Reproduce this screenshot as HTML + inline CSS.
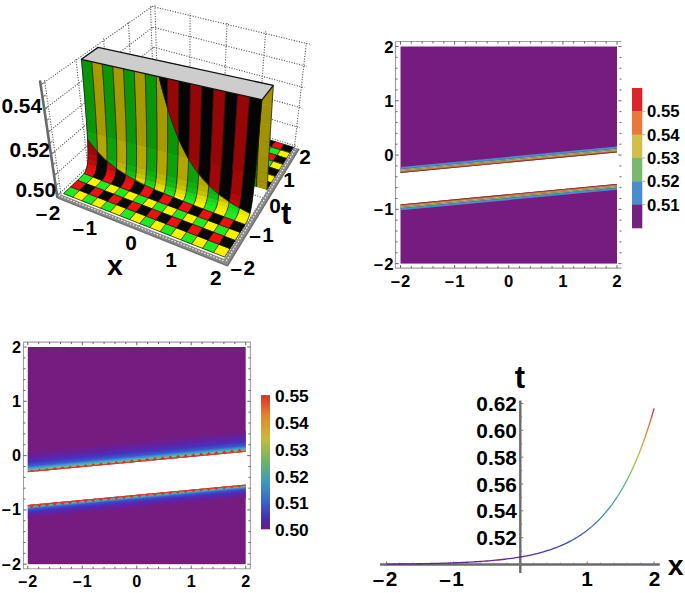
<!DOCTYPE html>
<html><head><meta charset="utf-8"><style>
html,body{margin:0;padding:0;background:#fff;}
svg{display:block;}
text{font-family:"Liberation Sans",sans-serif;font-weight:bold;fill:#000;}
</style></head><body>
<svg width="685" height="593" viewBox="0 0 685 593">
<rect width="685" height="593" fill="#fff"/>
<path d="M58.4,194.6 L155.4,102.9 M155.4,102.9 L297.6,146.5 M55.5,174.5 L154.8,85.0 M154.8,85.0 L299.8,127.7 M52.4,153.4 L154.2,66.5 M154.2,66.5 L302.1,108.1 M49.2,131.3 L153.6,47.2 M153.6,47.2 L304.5,87.7 M45.8,108.2 L152.9,27.2 M152.9,27.2 L307.0,66.4 M42.2,83.8 L152.2,6.4 M152.2,6.4 L309.7,44.2 M61.0,194.4 L44.5,79.5 M88.0,168.7 L75.8,57.6 M112.3,145.7 L103.5,38.2 M134.1,124.9 L128.3,21.0 M154.0,106.1 L150.5,5.5 M158.0,105.4 L154.9,4.9 M189.8,115.2 L190.1,13.3 M223.1,125.4 L227.0,22.2 M257.9,136.1 L265.7,31.4 M294.4,147.4 L306.6,41.2 M98.6,212.4 L189.8,115.2 M137.7,228.0 L223.1,125.4 M179.0,244.5 L257.9,136.1 M222.8,261.9 L294.4,147.4 M88.0,168.7 L248.3,228.0 M112.3,145.7 L266.1,199.0 M134.1,124.9 L282.0,173.2 M154.0,106.1 L296.3,150.0" stroke="#555" stroke-width="1.1" stroke-dasharray="1.1 1.5" fill="none"/>
<path d="M253.0,141.3 262.1,144.1 265.8,138.8 256.8,136.0Z" fill="#ec1212" stroke="#ec1212" stroke-width="0.4"/>
<path d="M253.0,141.3 L255.3,142.0 L257.5,142.7 L259.8,143.4 L262.1,144.1 M262.1,144.1 L263.0,142.7 L264.0,141.4 L264.9,140.1 L265.8,138.8 M265.8,138.8 L263.6,138.1 L261.3,137.4 L259.1,136.7 L256.8,136.0 M256.8,136.0 L255.9,137.3 L254.9,138.6 L254.0,139.9 L253.0,141.3" stroke="#111" stroke-width="0.7" fill="none"/>
<path d="M262.1,144.1 271.3,147.0 275.0,141.6 265.8,138.8Z" fill="#080808" stroke="#080808" stroke-width="0.4"/>
<path d="M262.1,144.1 L264.4,144.8 L266.7,145.5 L269.0,146.2 L271.3,147.0 M271.3,147.0 L272.2,145.6 L273.1,144.3 L274.0,142.9 L275.0,141.6 M275.0,141.6 L272.7,140.9 L270.4,140.2 L268.1,139.5 L265.8,138.8 M265.8,138.8 L264.9,140.1 L264.0,141.4 L263.0,142.7 L262.1,144.1" stroke="#111" stroke-width="0.7" fill="none"/>
<path d="M271.3,147.0 280.6,149.9 284.2,144.4 275.0,141.6Z" fill="#ec1212" stroke="#ec1212" stroke-width="0.4"/>
<path d="M271.3,147.0 L273.6,147.7 L275.9,148.4 L278.3,149.1 L280.6,149.9 M280.6,149.9 L281.5,148.5 L282.4,147.1 L283.3,145.8 L284.2,144.4 M284.2,144.4 L281.9,143.7 L279.6,143.0 L277.3,142.3 L275.0,141.6 M275.0,141.6 L274.0,142.9 L273.1,144.3 L272.2,145.6 L271.3,147.0" stroke="#111" stroke-width="0.7" fill="none"/>
<path d="M280.6,149.9 290.0,152.8 293.5,147.3 284.2,144.4Z" fill="#080808" stroke="#080808" stroke-width="0.4"/>
<path d="M280.6,149.9 L282.9,150.6 L285.3,151.3 L287.7,152.1 L290.0,152.8 M290.0,152.8 L290.9,151.4 L291.8,150.0 L292.6,148.6 L293.5,147.3 M293.5,147.3 L291.2,146.6 L288.8,145.8 L286.5,145.1 L284.2,144.4 M284.2,144.4 L283.3,145.8 L282.4,147.1 L281.5,148.5 L280.6,149.9" stroke="#111" stroke-width="0.7" fill="none"/>
<path d="M249.0,146.7 258.2,149.6 262.1,144.1 253.0,141.3Z" fill="#1eec1e" stroke="#1eec1e" stroke-width="0.4"/>
<path d="M249.0,146.7 L251.3,147.4 L253.6,148.1 L255.9,148.8 L258.2,149.6 M258.2,149.6 L259.2,148.2 L260.2,146.8 L261.1,145.4 L262.1,144.1 M262.1,144.1 L259.8,143.4 L257.5,142.7 L255.3,142.0 L253.0,141.3 M253.0,141.3 L252.0,142.6 L251.0,143.9 L250.0,145.3 L249.0,146.7" stroke="#111" stroke-width="0.7" fill="none"/>
<path d="M258.2,149.6 267.5,152.5 271.3,147.0 262.1,144.1Z" fill="#f6f200" stroke="#f6f200" stroke-width="0.4"/>
<path d="M258.2,149.6 L260.5,150.3 L262.9,151.0 L265.2,151.8 L267.5,152.5 M267.5,152.5 L268.5,151.1 L269.4,149.7 L270.4,148.3 L271.3,147.0 M271.3,147.0 L269.0,146.2 L266.7,145.5 L264.4,144.8 L262.1,144.1 M262.1,144.1 L261.1,145.4 L260.2,146.8 L259.2,148.2 L258.2,149.6" stroke="#111" stroke-width="0.7" fill="none"/>
<path d="M267.5,152.5 276.9,155.5 280.6,149.9 271.3,147.0Z" fill="#1eec1e" stroke="#1eec1e" stroke-width="0.4"/>
<path d="M267.5,152.5 L269.9,153.2 L272.2,154.0 L274.6,154.7 L276.9,155.5 M276.9,155.5 L277.9,154.1 L278.8,152.7 L279.7,151.3 L280.6,149.9 M280.6,149.9 L278.3,149.1 L275.9,148.4 L273.6,147.7 L271.3,147.0 M271.3,147.0 L270.4,148.3 L269.4,149.7 L268.5,151.1 L267.5,152.5" stroke="#111" stroke-width="0.7" fill="none"/>
<path d="M276.9,155.5 286.5,158.5 290.0,152.8 280.6,149.9Z" fill="#f6f200" stroke="#f6f200" stroke-width="0.4"/>
<path d="M276.9,155.5 L279.3,156.2 L281.7,157.0 L284.1,157.7 L286.5,158.5 M286.5,158.5 L287.4,157.1 L288.3,155.6 L289.1,154.2 L290.0,152.8 M290.0,152.8 L287.7,152.1 L285.3,151.3 L282.9,150.6 L280.6,149.9 M280.6,149.9 L279.7,151.3 L278.8,152.7 L277.9,154.1 L276.9,155.5" stroke="#111" stroke-width="0.7" fill="none"/>
<path d="M245.0,152.2 254.3,155.2 258.2,149.6 249.0,146.7Z" fill="#ec1212" stroke="#ec1212" stroke-width="0.4"/>
<path d="M245.0,152.2 L247.3,152.9 L249.6,153.7 L251.9,154.4 L254.3,155.2 M254.3,155.2 L255.3,153.8 L256.3,152.4 L257.3,151.0 L258.2,149.6 M258.2,149.6 L255.9,148.8 L253.6,148.1 L251.3,147.4 L249.0,146.7 M249.0,146.7 L248.0,148.0 L247.0,149.4 L246.0,150.8 L245.0,152.2" stroke="#111" stroke-width="0.7" fill="none"/>
<path d="M254.3,155.2 263.7,158.2 267.5,152.5 258.2,149.6Z" fill="#080808" stroke="#080808" stroke-width="0.4"/>
<path d="M254.3,155.2 L256.6,155.9 L259.0,156.7 L261.3,157.4 L263.7,158.2 M263.7,158.2 L264.6,156.8 L265.6,155.3 L266.6,153.9 L267.5,152.5 M267.5,152.5 L265.2,151.8 L262.9,151.0 L260.5,150.3 L258.2,149.6 M258.2,149.6 L257.3,151.0 L256.3,152.4 L255.3,153.8 L254.3,155.2" stroke="#111" stroke-width="0.7" fill="none"/>
<path d="M263.7,158.2 273.2,161.2 276.9,155.5 267.5,152.5Z" fill="#ec1212" stroke="#ec1212" stroke-width="0.4"/>
<path d="M263.7,158.2 L266.0,158.9 L268.4,159.7 L270.8,160.5 L273.2,161.2 M273.2,161.2 L274.1,159.8 L275.1,158.3 L276.0,156.9 L276.9,155.5 M276.9,155.5 L274.6,154.7 L272.2,154.0 L269.9,153.2 L267.5,152.5 M267.5,152.5 L266.6,153.9 L265.6,155.3 L264.6,156.8 L263.7,158.2" stroke="#111" stroke-width="0.7" fill="none"/>
<path d="M273.2,161.2 282.8,164.3 286.5,158.5 276.9,155.5Z" fill="#080808" stroke="#080808" stroke-width="0.4"/>
<path d="M273.2,161.2 L275.6,162.0 L278.0,162.8 L280.4,163.6 L282.8,164.3 M282.8,164.3 L283.7,162.9 L284.7,161.4 L285.6,159.9 L286.5,158.5 M286.5,158.5 L284.1,157.7 L281.7,157.0 L279.3,156.2 L276.9,155.5 M276.9,155.5 L276.0,156.9 L275.1,158.3 L274.1,159.8 L273.2,161.2" stroke="#111" stroke-width="0.7" fill="none"/>
<path d="M250.2,160.9 259.7,164.0 263.7,158.2 254.3,155.2Z" fill="#f6f200" stroke="#f6f200" stroke-width="0.4"/>
<path d="M250.2,160.9 L252.6,161.7 L255.0,162.5 L257.3,163.2 L259.7,164.0 M259.7,164.0 L260.7,162.5 L261.7,161.1 L262.7,159.6 L263.7,158.2 M263.7,158.2 L261.3,157.4 L259.0,156.7 L256.6,155.9 L254.3,155.2 M254.3,155.2 L253.3,156.6 L252.3,158.0 L251.2,159.5 L250.2,160.9" stroke="#111" stroke-width="0.7" fill="none"/>
<path d="M259.7,164.0 269.3,167.2 273.2,161.2 263.7,158.2Z" fill="#1eec1e" stroke="#1eec1e" stroke-width="0.4"/>
<path d="M259.7,164.0 L262.1,164.8 L264.5,165.6 L266.9,166.4 L269.3,167.2 M269.3,167.2 L270.3,165.7 L271.3,164.2 L272.2,162.7 L273.2,161.2 M273.2,161.2 L270.8,160.5 L268.4,159.7 L266.0,158.9 L263.7,158.2 M263.7,158.2 L262.7,159.6 L261.7,161.1 L260.7,162.5 L259.7,164.0" stroke="#111" stroke-width="0.7" fill="none"/>
<path d="M269.3,167.2 279.1,170.3 282.8,164.3 273.2,161.2Z" fill="#f6f200" stroke="#f6f200" stroke-width="0.4"/>
<path d="M269.3,167.2 L271.7,167.9 L274.2,168.7 L276.6,169.5 L279.1,170.3 M279.1,170.3 L280.0,168.8 L280.9,167.3 L281.9,165.8 L282.8,164.3 M282.8,164.3 L280.4,163.6 L278.0,162.8 L275.6,162.0 L273.2,161.2 M273.2,161.2 L272.2,162.7 L271.3,164.2 L270.3,165.7 L269.3,167.2" stroke="#111" stroke-width="0.7" fill="none"/>
<path d="M246.1,166.8 255.6,170.0 259.7,164.0 250.2,160.9Z" fill="#080808" stroke="#080808" stroke-width="0.4"/>
<path d="M246.1,166.8 L248.4,167.6 L250.8,168.4 L253.2,169.2 L255.6,170.0 M255.6,170.0 L256.7,168.5 L257.7,167.0 L258.7,165.5 L259.7,164.0 M259.7,164.0 L257.3,163.2 L255.0,162.5 L252.6,161.7 L250.2,160.9 M250.2,160.9 L249.2,162.4 L248.2,163.9 L247.1,165.4 L246.1,166.8" stroke="#111" stroke-width="0.7" fill="none"/>
<path d="M255.6,170.0 265.4,173.2 269.3,167.2 259.7,164.0Z" fill="#ec1212" stroke="#ec1212" stroke-width="0.4"/>
<path d="M255.6,170.0 L258.1,170.8 L260.5,171.6 L262.9,172.4 L265.4,173.2 M265.4,173.2 L266.4,171.7 L267.4,170.2 L268.3,168.7 L269.3,167.2 M269.3,167.2 L266.9,166.4 L264.5,165.6 L262.1,164.8 L259.7,164.0 M259.7,164.0 L258.7,165.5 L257.7,167.0 L256.7,168.5 L255.6,170.0" stroke="#111" stroke-width="0.7" fill="none"/>
<path d="M265.4,173.2 275.2,176.5 279.1,170.3 269.3,167.2Z" fill="#080808" stroke="#080808" stroke-width="0.4"/>
<path d="M265.4,173.2 L267.8,174.0 L270.3,174.8 L272.7,175.7 L275.2,176.5 M275.2,176.5 L276.2,174.9 L277.1,173.4 L278.1,171.8 L279.1,170.3 M279.1,170.3 L276.6,169.5 L274.2,168.7 L271.7,167.9 L269.3,167.2 M269.3,167.2 L268.3,168.7 L267.4,170.2 L266.4,171.7 L265.4,173.2" stroke="#111" stroke-width="0.7" fill="none"/>
<path d="M251.5,176.2 261.3,179.5 265.4,173.2 255.6,170.0Z" fill="#1eec1e" stroke="#1eec1e" stroke-width="0.4"/>
<path d="M251.5,176.2 L253.9,177.0 L256.4,177.8 L258.8,178.6 L261.3,179.5 M261.3,179.5 L262.3,177.9 L263.3,176.3 L264.4,174.8 L265.4,173.2 M265.4,173.2 L262.9,172.4 L260.5,171.6 L258.1,170.8 L255.6,170.0 M255.6,170.0 L254.6,171.5 L253.6,173.1 L252.5,174.6 L251.5,176.2" stroke="#111" stroke-width="0.7" fill="none"/>
<path d="M261.3,179.5 271.2,182.8 275.2,176.5 265.4,173.2Z" fill="#f6f200" stroke="#f6f200" stroke-width="0.4"/>
<path d="M261.3,179.5 L263.8,180.3 L266.3,181.1 L268.7,182.0 L271.2,182.8 M271.2,182.8 L272.2,181.2 L273.2,179.6 L274.2,178.0 L275.2,176.5 M275.2,176.5 L272.7,175.7 L270.3,174.8 L267.8,174.0 L265.4,173.2 M265.4,173.2 L264.4,174.8 L263.3,176.3 L262.3,177.9 L261.3,179.5" stroke="#111" stroke-width="0.7" fill="none"/>
<path d="M247.2,182.5 257.1,185.9 261.3,179.5 251.5,176.2Z" fill="#ec1212" stroke="#ec1212" stroke-width="0.4"/>
<path d="M247.2,182.5 L249.7,183.3 L252.1,184.2 L254.6,185.0 L257.1,185.9 M257.1,185.9 L258.2,184.2 L259.2,182.6 L260.3,181.0 L261.3,179.5 M261.3,179.5 L258.8,178.6 L256.4,177.8 L253.9,177.0 L251.5,176.2 M251.5,176.2 L250.4,177.7 L249.3,179.3 L248.3,180.9 L247.2,182.5" stroke="#111" stroke-width="0.7" fill="none"/>
<path d="M257.1,185.9 267.2,189.3 271.2,182.8 261.3,179.5Z" fill="#080808" stroke="#080808" stroke-width="0.4"/>
<path d="M257.1,185.9 L259.6,186.7 L262.1,187.6 L264.6,188.4 L267.2,189.3 M267.2,189.3 L268.2,187.6 L269.2,186.0 L270.2,184.4 L271.2,182.8 M271.2,182.8 L268.7,182.0 L266.3,181.1 L263.8,180.3 L261.3,179.5 M261.3,179.5 L260.3,181.0 L259.2,182.6 L258.2,184.2 L257.1,185.9" stroke="#111" stroke-width="0.7" fill="none"/>
<path d="M256.6,186.7 257.1,185.9 247.2,182.5 246.2,183.9Z" fill="#1eec1e" stroke="#1eec1e" stroke-width="0.4"/>
<path d="M256.6,186.7 L256.7,186.5 L256.9,186.3 L257.0,186.1 L257.1,185.9 M257.1,185.9 L254.6,185.0 L252.1,184.2 L249.7,183.3 L247.2,182.5 M247.2,182.5 L246.9,182.8 L246.7,183.2 L246.5,183.5 L246.2,183.9" stroke="#111" stroke-width="0.7" fill="none"/>
<path d="M267.1,189.5 267.2,189.3 257.1,185.9 256.6,186.7Z" fill="#f6f200" stroke="#f6f200" stroke-width="0.4"/>
<path d="M267.1,189.5 L267.1,189.4 L267.1,189.4 L267.1,189.3 L267.2,189.3 M267.2,189.3 L264.6,188.4 L262.1,187.6 L259.6,186.7 L257.1,185.9 M257.1,185.9 L257.0,186.1 L256.9,186.3 L256.7,186.5 L256.6,186.7" stroke="#111" stroke-width="0.7" fill="none"/>
<path d="M256.8,179.9 256.6,186.7 246.2,183.9 246.4,177.1Z" fill="#078f07" stroke="#078f07" stroke-width="0.4"/>
<path d="M256.8,179.9 L256.7,181.8 L256.7,183.6 L256.6,185.3 L256.6,186.7 M246.2,183.9 L246.2,182.5 L246.3,180.9 L246.3,179.0 L246.4,177.1" stroke="#111" stroke-width="0.7" fill="none"/>
<path d="M267.4,182.7 267.1,189.5 256.6,186.7 256.8,179.9Z" fill="#9f9204" stroke="#9f9204" stroke-width="0.4"/>
<path d="M267.4,182.7 L267.3,184.6 L267.2,186.5 L267.1,188.1 L267.1,189.5 M256.6,186.7 L256.6,185.3 L256.7,183.6 L256.7,181.8 L256.8,179.9" stroke="#111" stroke-width="0.7" fill="none"/>
<path d="M257.2,171.3 256.8,179.9 246.4,177.1 246.6,168.6Z" fill="#078f07" stroke="#078f07" stroke-width="0.4"/>
<path d="M257.2,171.3 L257.1,173.6 L257.0,175.7 L256.9,177.8 L256.8,179.9 M246.4,177.1 L246.4,175.1 L246.5,173.0 L246.5,170.8 L246.6,168.6" stroke="#111" stroke-width="0.7" fill="none"/>
<path d="M267.9,174.1 267.4,182.7 256.8,179.9 257.2,171.3Z" fill="#9f9204" stroke="#9f9204" stroke-width="0.4"/>
<path d="M267.9,174.1 L267.7,176.4 L267.6,178.5 L267.5,180.6 L267.4,182.7 M256.8,179.9 L256.9,177.8 L257.0,175.7 L257.1,173.6 L257.2,171.3" stroke="#111" stroke-width="0.7" fill="none"/>
<path d="M257.8,156.7 257.2,171.3 246.6,168.6 247.0,154.0Z" fill="#078f07" stroke="#078f07" stroke-width="0.4"/>
<path d="M257.8,156.7 L257.6,160.6 L257.5,164.3 L257.3,167.8 L257.2,171.3 M246.6,168.6 L246.7,165.1 L246.8,161.5 L246.9,157.8 L247.0,154.0" stroke="#111" stroke-width="0.7" fill="none"/>
<path d="M268.7,159.5 267.9,174.1 257.2,171.3 257.8,156.7Z" fill="#9f9204" stroke="#9f9204" stroke-width="0.4"/>
<path d="M268.7,159.5 L268.5,163.3 L268.3,167.0 L268.1,170.6 L267.9,174.1 M257.2,171.3 L257.3,167.8 L257.5,164.3 L257.6,160.6 L257.8,156.7" stroke="#111" stroke-width="0.7" fill="none"/>
<path d="M258.6,140.5 257.8,156.7 247.0,154.0 247.6,137.8Z" fill="#078f07" stroke="#078f07" stroke-width="0.4"/>
<path d="M258.6,140.5 L258.4,144.7 L258.2,148.8 L258.0,152.8 L257.8,156.7 M247.0,154.0 L247.2,150.1 L247.3,146.1 L247.4,142.0 L247.6,137.8" stroke="#111" stroke-width="0.7" fill="none"/>
<path d="M269.7,143.2 268.7,159.5 257.8,156.7 258.6,140.5Z" fill="#9f9204" stroke="#9f9204" stroke-width="0.4"/>
<path d="M269.7,143.2 L269.4,147.5 L269.2,151.6 L268.9,155.6 L268.7,159.5 M257.8,156.7 L258.0,152.8 L258.2,148.8 L258.4,144.7 L258.6,140.5" stroke="#111" stroke-width="0.7" fill="none"/>
<path d="M259.4,122.8 258.6,140.5 247.6,137.8 248.2,120.1Z" fill="#078f07" stroke="#078f07" stroke-width="0.4"/>
<path d="M259.4,122.8 L259.2,127.3 L259.0,131.8 L258.8,136.2 L258.6,140.5 M247.6,137.8 L247.7,133.5 L247.9,129.1 L248.0,124.7 L248.2,120.1" stroke="#111" stroke-width="0.7" fill="none"/>
<path d="M270.8,125.4 269.7,143.2 258.6,140.5 259.4,122.8Z" fill="#9f9204" stroke="#9f9204" stroke-width="0.4"/>
<path d="M270.8,125.4 L270.5,130.0 L270.2,134.5 L270.0,138.9 L269.7,143.2 M258.6,140.5 L258.8,136.2 L259.0,131.8 L259.2,127.3 L259.4,122.8" stroke="#111" stroke-width="0.7" fill="none"/>
<path d="M272.0,106.2 270.8,125.4 259.4,122.8 260.4,103.5Z" fill="#9f9204" stroke="#9f9204" stroke-width="0.4"/>
<path d="M272.0,106.2 L271.7,111.1 L271.4,116.0 L271.1,120.8 L270.8,125.4 M259.4,122.8 L259.7,118.1 L259.9,113.3 L260.1,108.5 L260.4,103.5" stroke="#111" stroke-width="0.7" fill="none"/>
<path d="M237.7,89.9 246.6,79.6 249.6,80.2 248.9,100.9 237.5,98.3Z" fill="#9f9204" stroke="#9f9204" stroke-width="0.4"/>
<path d="M237.7,89.9 L239.9,87.4 L242.1,84.8 L244.4,82.2 L246.6,79.6 M249.6,80.2 L249.4,85.6 L249.2,90.8 L249.1,95.9 L248.9,100.9 M237.5,98.3 L237.6,96.3 L237.6,94.2 L237.7,92.1 L237.7,89.9" stroke="#111" stroke-width="0.7" fill="none"/>
<path d="M192.8,67.9 193.3,88.3 182.6,85.9 181.8,65.5Z" fill="#8f0505" stroke="#8f0505" stroke-width="0.4"/>
<path d="M192.8,67.9 L192.9,73.2 L193.0,78.3 L193.2,83.3 L193.3,88.3 M182.6,85.9 L182.4,80.9 L182.2,75.9 L182.0,70.8 L181.8,65.5" stroke="#111" stroke-width="0.7" fill="none"/>
<path d="M170.9,63.2 171.9,83.5 161.4,81.1 160.2,60.9Z" fill="#8f0505" stroke="#8f0505" stroke-width="0.4"/>
<path d="M170.9,63.2 L171.2,68.4 L171.4,73.5 L171.7,78.5 L171.9,83.5 M161.4,81.1 L161.1,76.1 L160.8,71.1 L160.5,66.0 L160.2,60.9" stroke="#111" stroke-width="0.7" fill="none"/>
<path d="M181.8,65.5 182.6,85.9 171.9,83.5 170.9,63.2Z" fill="#040404" stroke="#040404" stroke-width="0.4"/>
<path d="M181.8,65.5 L182.0,70.8 L182.2,75.9 L182.4,80.9 L182.6,85.9 M171.9,83.5 L171.7,78.5 L171.4,73.5 L171.2,68.4 L170.9,63.2" stroke="#111" stroke-width="0.7" fill="none"/>
<path d="M261.4,82.8 260.4,103.5 248.9,100.9 249.6,80.2Z" fill="#078f07" stroke="#078f07" stroke-width="0.4"/>
<path d="M261.4,82.8 L261.1,88.1 L260.9,93.4 L260.6,98.5 L260.4,103.5 M248.9,100.9 L249.1,95.9 L249.2,90.8 L249.4,85.6 L249.6,80.2" stroke="#111" stroke-width="0.7" fill="none"/>
<path d="M273.3,85.4 272.0,106.2 260.4,103.5 261.4,82.8Z" fill="#9f9204" stroke="#9f9204" stroke-width="0.4"/>
<path d="M273.3,85.4 L273.0,90.7 L272.6,96.0 L272.3,101.1 L272.0,106.2 M260.4,103.5 L260.6,98.5 L260.9,93.4 L261.1,88.1 L261.4,82.8" stroke="#111" stroke-width="0.7" fill="none"/>
<path d="M128.8,55.8 129.7,54.3 139.0,56.3 140.8,76.4 130.6,74.1Z" fill="#040404" stroke="#040404" stroke-width="0.4"/>
<path d="M128.8,55.8 L129.0,55.4 L129.3,55.0 L129.5,54.6 L129.7,54.3 M139.0,56.3 L139.5,61.4 L139.9,66.5 L140.3,71.5 L140.8,76.4 M130.6,74.1 L130.1,69.6 L129.7,65.1 L129.3,60.4 L128.8,55.8" stroke="#111" stroke-width="0.7" fill="none"/>
<path d="M129.7,54.3 128.8,55.8 128.6,54.0Z" fill="#9f9204" stroke="#9f9204" stroke-width="0.4"/>
<path d="M129.7,54.3 L129.5,54.6 L129.3,55.0 L129.0,55.4 L128.8,55.8 M128.8,55.8 L128.8,55.3 L128.7,54.9 L128.7,54.5 L128.6,54.0" stroke="#111" stroke-width="0.7" fill="none"/>
<path d="M93.3,176.8 84.0,173.2 82.8,174.6 79.4,178.1 77.0,180.4 86.4,184.0 89.5,180.9 92.5,177.8ZM101.8,180.1 98.5,183.7 94.9,187.3 104.6,190.9 108.8,186.5 111.3,183.8ZM123.2,198.0 129.8,190.8 120.0,187.1 113.3,194.3ZM72.7,197.4 80.1,190.3 70.6,186.6 63.2,193.7ZM142.3,205.3 148.7,197.9 138.7,194.1 132.2,201.5ZM91.2,204.7 98.4,197.3 88.6,193.6 81.4,200.9ZM110.2,212.2 117.2,204.6 107.2,200.8 100.1,208.2ZM162.0,212.8 168.1,205.2 157.8,201.3 151.6,208.8ZM129.7,219.9 136.5,212.1 126.2,208.1 119.4,215.8ZM149.8,227.8 156.3,219.8 145.8,215.7 139.2,223.7ZM163.3,193.5 173.5,197.7 174.6,195.2 163.9,192.1ZM184.5,198.0 183.3,200.6 182.8,201.4 193.3,205.5 194.4,203.5 195.4,201.1ZM205.5,203.9 204.3,206.6 202.9,209.2 213.6,213.2 215.4,210.0 216.6,207.1ZM237.2,216.0 238.3,213.3 226.9,210.0 225.8,212.7 224.4,215.3 223.4,216.9 234.4,221.0 236.0,218.4ZM182.2,220.5 188.1,212.7 177.6,208.7 171.5,216.4ZM203.0,228.4 208.6,220.4 197.8,216.3 192.0,224.2ZM170.4,236.0 176.7,227.7 166.0,223.5 159.6,231.7ZM224.3,236.6 229.7,228.3 218.6,224.1 213.1,232.3ZM191.7,244.4 197.7,235.9 186.7,231.6 180.5,240.0ZM213.6,253.0 219.3,244.2 208.0,239.8 202.1,248.5Z" fill="#1eec1e"/>
<path d="M95.7,172.8 85.8,170.0 84.5,172.4 83.7,173.6 93.0,177.3 94.6,175.0 94.5,175.0ZM101.4,180.5 111.0,184.2 112.0,182.9 113.4,180.9 113.7,180.5 113.7,180.5 114.8,178.2 104.7,175.3 103.5,177.8ZM133.1,186.3 134.4,183.7 124.1,180.8 122.8,183.3 121.1,185.7 119.6,187.5 129.4,191.2 131.6,188.5ZM79.7,190.6 86.8,183.6 77.4,180.1 70.2,187.0ZM143.8,186.4 142.6,188.9 140.9,191.3 138.3,194.5 148.3,198.3 151.6,194.2 153.2,191.8 154.3,189.4ZM98.0,197.7 104.9,190.5 95.3,186.9 88.3,194.0ZM116.8,205.0 123.6,197.6 113.7,193.9 106.8,201.2ZM136.1,212.5 142.7,204.9 132.5,201.1 125.9,208.5ZM156.0,220.2 162.3,212.4 151.9,208.4 145.5,216.1ZM161.1,197.1 157.5,201.7 167.8,205.6 172.0,200.1 173.7,197.3 163.5,193.1 162.7,194.7ZM177.2,209.1 187.8,213.1 190.1,210.0 192.6,206.5 193.5,205.0 183.1,201.0 181.8,203.1ZM203.1,208.7 200.1,213.1 197.5,216.7 208.3,220.8 211.5,216.2 213.8,212.8ZM229.5,228.7 234.7,220.6 223.7,216.5 218.3,224.5ZM176.4,228.1 182.5,220.1 171.8,216.0 165.6,224.0ZM197.4,236.3 203.3,228.0 192.3,223.8 186.4,232.0ZM219.0,244.7 224.6,236.1 213.4,231.8 207.7,240.2Z" fill="#ec1212"/>
<path d="M87.6,148.4 87.7,154.6 97.7,157.3 97.7,151.5 96.9,150.6 88.6,140.3 87.2,138.4ZM194.6,169.1 198.9,174.9 199.7,161.5 188.4,158.5 188.4,159.2ZM220.2,184.6 221.5,167.2 210.0,164.2 209.5,172.9 208.5,185.7 211.6,188.7 219.6,190.9ZM230.7,187.2 230.0,193.7 241.5,196.9 242.3,190.1 243.9,173.1 232.2,170.0Z" fill="#a20707"/>
<path d="M87.7,154.1 87.6,160.0 97.5,162.7 97.7,156.8ZM106.5,165.3 115.8,167.8 106.8,160.5ZM219.7,190.4 210.7,187.9 219.1,195.0ZM230.1,193.2 229.3,199.4 240.7,202.6 241.6,196.4Z" fill="#af0909"/>
<path d="M87.6,159.5 87.2,164.4 97.1,167.2 97.5,162.2ZM114.8,167.0 106.6,164.8 106.1,169.7 116.2,172.6 116.7,168.4ZM125.6,174.3 125.4,175.1 127.7,175.8 127.7,175.6ZM239.9,207.2 240.8,202.1 229.3,198.9 228.9,202.0 235.3,206.0Z" fill="#bb0b0b"/>
<path d="M87.2,163.9 86.5,167.8 96.4,170.6 97.1,166.7ZM106.2,169.2 105.4,173.2 115.5,176.0 116.3,172.1ZM126.6,175.0 125.5,174.6 124.8,178.6 135.0,181.5 135.4,179.9ZM239.6,208.4 240.0,206.7 234.3,205.2 234.2,205.3Z" fill="#d40f0f"/>
<path d="M86.6,167.3 85.6,170.4 95.5,173.2 96.5,170.1ZM105.6,172.7 104.6,175.8 114.6,178.7 115.7,175.5ZM124.9,178.1 123.9,181.3 134.2,184.2 135.2,181.0ZM144.4,184.5 143.6,186.9 154.1,189.9 154.4,189.1Z" fill="#e01010"/>
<path d="M83.7,88.5 85.5,111.4 86.9,132.3 97.1,135.0 96.5,124.1 95.1,102.6 92.0,61.4 81.1,59.0ZM103.9,93.3 105.3,116.4 106.3,137.4 116.7,140.2 116.3,129.2 115.3,107.6 113.0,66.1 101.9,63.6ZM135.2,89.2 134.5,71.0 123.2,68.4 125.1,109.8 125.9,132.0 126.2,142.7 136.8,145.4 136.3,123.9ZM144.9,73.3 146.0,114.9 146.4,137.3 146.5,148.0 157.3,150.8 157.3,139.8 157.1,117.8 156.5,75.9ZM167.4,107.3 167.4,132.1 167.2,153.4 178.2,156.3 178.6,138.3 176.9,134.2 172.0,121.1 167.5,107.3Z" fill="#099609"/>
<path d="M95.9,150.3 97.7,152.2 97.4,143.1 97.0,134.5 86.9,131.8 87.3,139.3 87.8,140.0 87.7,140.0 96.0,150.3ZM106.8,153.6 106.8,159.8 116.9,162.6 117.0,156.0 116.9,148.3 116.7,139.6 106.3,136.9 106.6,145.4ZM126.4,158.9 126.2,165.2 136.6,168.0 136.8,161.4 136.8,153.6 136.8,144.9 126.2,142.1 126.3,150.6ZM157.2,159.1 157.3,150.3 146.5,147.5 146.5,156.0 146.3,164.3 146.1,170.7 156.7,173.6 157.0,167.4ZM166.7,169.9 166.4,176.2 177.2,179.2 177.6,172.5 178.0,164.6 178.2,155.8 167.2,152.9 167.0,161.5ZM188.0,167.1 187.6,175.5 187.1,181.9 198.2,185.0 199.0,174.2 195.0,168.7 188.4,158.3ZM208.3,187.8 212.7,189.0 208.6,185.1Z" fill="#0ca20c"/>
<path d="M95.4,187.5 99.1,183.7 102.3,180.3 92.8,176.7 88.9,180.9 85.9,183.8ZM113.8,194.5 120.5,187.3 110.8,183.6 108.2,186.5 104.1,190.7ZM155.1,190.0 163.8,193.7 164.4,192.3 155.2,189.7ZM132.7,201.7 139.2,194.3 129.3,190.6 122.7,197.8ZM81.9,201.1 89.2,193.8 79.6,190.1 72.2,197.2ZM152.1,209.0 158.3,201.5 148.2,197.7 141.8,205.1ZM100.6,208.4 107.7,201.0 97.9,197.1 90.7,204.5ZM119.9,216.0 126.7,208.3 116.7,204.4 109.7,212.0ZM172.0,216.6 178.0,208.9 167.6,205.0 161.5,212.6ZM139.7,223.8 146.3,215.9 136.0,211.9 129.2,219.7ZM160.0,231.9 166.4,223.7 155.8,219.6 149.3,227.6ZM173.0,197.5 183.3,201.6 183.9,200.5 185.0,198.1 174.1,195.0ZM194.9,200.9 193.8,203.6 192.8,205.3 203.3,209.3 204.9,206.5 206.0,204.1ZM216.2,207.0 215.0,209.6 213.1,213.0 223.9,217.1 225.0,215.3 226.2,213.1 227.4,210.2ZM248.3,219.2 249.4,216.4 237.9,213.1 236.8,215.8 235.4,218.5 234.0,220.8 245.1,224.9 247.0,221.6ZM192.5,224.4 198.3,216.5 187.6,212.5 181.7,220.3ZM213.6,232.5 219.1,224.3 208.1,220.2 202.5,228.2ZM181.0,240.1 187.1,231.8 176.2,227.5 170.0,235.8ZM235.2,240.7 240.5,232.3 229.3,228.1 223.8,236.4ZM202.6,248.7 208.4,240.0 197.2,235.7 191.2,244.2ZM224.8,257.4 230.4,248.5 218.8,244.0 213.1,252.8Z" fill="#f6f200"/>
<path d="M96.1,170.0 95.1,172.8 94.0,175.1 92.5,177.1 101.9,180.7 104.1,177.8 104.1,177.7 105.2,175.5 106.0,172.8ZM111.4,182.9 110.5,184.0 120.1,187.7 121.8,185.7 123.4,183.3 123.4,183.3 124.5,181.0 125.4,178.3 115.2,175.4 114.2,178.3 113.1,180.5ZM144.1,186.8 144.9,184.7 140.5,182.5 134.7,180.9 133.8,183.8 132.6,186.1 131.0,188.5 128.9,191.0 138.8,194.7 141.6,191.3 143.2,188.9ZM88.8,194.2 95.8,187.1 86.3,183.4 79.2,190.4ZM107.3,201.4 114.2,194.1 104.4,190.4 97.5,197.5ZM158.0,201.9 161.8,197.1 163.3,194.7 164.0,193.3 153.9,188.9 152.6,191.8 151.0,194.2 147.9,198.1ZM133.0,201.3 123.0,197.4 116.3,204.8 126.4,208.7ZM152.4,208.6 142.2,204.7 135.6,212.3 146.0,216.3ZM171.4,200.1 167.3,205.4 177.7,209.3 182.1,203.5 183.6,201.2 173.2,197.1ZM192.3,206.1 189.5,210.0 187.3,212.9 198.0,216.9 200.7,213.1 203.6,208.9 193.0,204.9ZM218.8,224.7 224.2,216.6 213.4,212.6 207.8,220.6ZM166.1,224.1 172.3,216.2 161.8,212.2 155.5,220.0ZM240.2,232.7 245.4,224.5 234.2,220.4 229.0,228.5ZM186.8,232.2 192.8,224.0 182.0,219.9 175.9,227.9ZM213.9,232.0 202.8,227.8 196.9,236.1 208.1,240.4ZM235.5,240.3 224.1,235.9 218.6,244.5 230.1,248.9Z" fill="#080808"/>
<path d="M105.6,159.5 97.2,151.0 97.2,157.2ZM187.9,158.4 188.8,160.0 188.9,158.6ZM210.0,172.7 210.5,164.3 199.2,161.3 198.5,174.3 202.6,179.3 202.5,179.3 209.0,186.2ZM231.2,187.6 232.7,170.2 221.1,167.1 219.7,184.3 219.1,190.7 230.5,193.9ZM241.8,190.3 241.0,196.8 252.6,200.0 253.5,193.1 255.3,176.1 243.4,173.0Z" fill="#050505"/>
<path d="M107.1,164.9 107.2,160.9 104.9,158.8 97.2,156.7 97.0,162.4 96.6,167.1 106.6,169.9ZM115.7,172.4 125.9,175.3 126.0,174.6 116.2,168.1ZM221.3,196.7 229.3,202.3 229.8,199.0 230.5,193.4 219.2,190.2 218.6,194.7 221.3,196.7ZM251.9,205.1 252.7,199.5 241.1,196.3 240.3,202.2 239.4,207.1 250.9,210.3Z" fill="#060606"/>
<path d="M96.7,166.6 95.9,170.5 105.9,173.3 106.7,169.4ZM115.8,171.9 115.1,175.9 125.2,178.8 126.0,174.8ZM135.0,179.7 134.6,181.4 141.5,183.4 141.6,183.1ZM251.0,209.8 239.5,206.6 239.2,208.2 250.1,213.9Z" fill="#070707"/>
<path d="M102.4,63.8 91.5,61.3 94.5,102.3 96.0,124.3 96.6,134.9 106.8,137.6 106.3,126.6 105.1,105.0ZM114.2,95.8 115.4,118.9 116.2,140.0 126.7,142.8 126.4,131.8 125.6,110.1 123.7,68.5 112.5,66.0ZM146.5,115.2 145.4,73.4 134.0,70.8 135.5,112.3 136.1,134.6 136.3,145.3 147.0,148.1 146.9,137.1ZM156.3,93.9 156.8,129.4 156.8,150.7 167.7,153.6 167.9,132.4 167.9,108.9 168.0,108.9 164.1,95.5 161.7,86.5 159.2,76.5 156.0,75.8ZM182.2,146.3 178.1,137.2 177.7,156.2 188.9,159.2Z" fill="#a69a03"/>
<path d="M96.9,142.8 97.2,151.7 104.7,159.2 107.3,160.0 107.3,153.4 107.1,145.7 106.8,137.0 96.5,134.3ZM116.5,156.2 116.4,162.5 126.7,165.3 126.9,158.7 126.8,151.0 126.7,142.3 116.2,139.5 116.4,148.0ZM136.3,161.6 136.1,167.9 146.6,170.8 146.8,164.2 147.0,156.4 147.0,147.6 136.3,144.8 136.3,153.3ZM156.5,167.1 156.2,173.4 166.9,176.4 167.3,169.7 167.5,161.8 167.7,153.1 156.8,150.2 156.7,158.8ZM177.5,164.3 177.1,172.7 176.7,179.1 187.6,182.1 188.1,175.4 188.9,159.1 188.6,158.6 177.7,155.7ZM208.8,187.9 209.1,185.5 203.5,179.6 198.5,173.6 197.7,184.8Z" fill="#b1a603"/>
<path d="M107.3,159.4 103.8,158.5 107.2,161.6ZM116.2,167.9 126.4,170.8 126.7,164.8 116.5,162.0ZM135.8,173.4 146.2,176.3 146.6,170.3 136.1,167.4ZM155.8,179.0 166.4,181.9 166.9,175.9 156.2,172.9ZM176.2,184.6 187.1,187.7 187.7,181.6 176.8,178.6ZM197.1,190.4 208.2,193.5 208.9,187.4 197.7,184.3ZM218.4,196.4 223.6,197.8 223.6,197.8 218.7,194.1Z" fill="#bcb302"/>
<path d="M116.7,168.1 117.0,162.1 106.8,159.3 106.7,161.1 114.6,167.5ZM125.9,170.7 136.3,173.5 136.6,167.5 126.2,164.7ZM145.7,176.2 156.3,179.1 156.7,173.1 146.1,170.1ZM166.4,175.7 166.0,181.8 176.7,184.8 177.3,178.7ZM186.6,187.5 197.6,190.6 198.2,184.5 187.2,181.4ZM208.4,187.3 207.7,193.4 218.9,196.5 219.2,194.4 211.9,188.2Z" fill="#0faf0f"/>
<path d="M116.6,169.0 116.7,167.6 113.6,166.7 113.6,166.8ZM136.3,173.0 126.0,170.1 125.5,174.8 126.4,175.4 135.8,178.0ZM145.2,180.7 155.7,183.6 156.3,178.6 145.8,175.7ZM165.4,186.3 176.1,189.3 176.8,184.3 166.0,181.3ZM185.9,192.1 196.9,195.2 197.6,190.1 186.7,187.0ZM207.0,198.0 218.2,201.1 219.0,196.0 207.8,192.9ZM228.5,204.0 236.5,206.3 236.6,206.2 228.9,201.4Z" fill="#12bb12"/>
<path d="M126.5,170.3 116.2,167.4 116.1,168.6 126.0,175.1ZM135.3,177.9 145.7,180.8 146.3,175.8 135.8,172.9ZM155.2,183.5 165.8,186.5 166.5,181.4 155.8,178.4ZM176.3,184.1 175.6,189.2 186.4,192.2 187.2,187.2ZM196.4,195.0 207.5,198.1 208.3,193.0 197.2,189.9ZM218.5,195.9 217.7,201.0 229.0,204.2 229.4,201.7 222.6,197.0Z" fill="#c8c002"/>
<path d="M135.3,180.5 135.8,177.5 125.4,174.6 125.4,174.8ZM144.5,184.2 155.0,187.2 155.8,183.1 145.3,180.2ZM164.6,189.9 175.3,192.9 176.2,188.8 165.4,185.8ZM186.0,191.6 185.2,195.7 196.1,198.8 197.0,194.7ZM206.2,201.6 217.3,204.8 218.3,200.7 207.1,197.5ZM228.6,203.5 227.7,207.7 239.1,210.9 239.8,207.9 235.5,205.5Z" fill="#18d418"/>
<path d="M145.0,184.3 145.8,180.3 135.3,177.4 134.8,180.2 140.3,183.0ZM154.5,187.0 165.1,190.0 165.9,186.0 155.3,183.0ZM174.8,192.8 185.7,195.8 186.5,191.8 175.7,188.7ZM196.5,194.6 195.6,198.6 206.7,201.8 207.6,197.7ZM216.9,204.6 228.1,207.8 229.1,203.7 217.8,200.5ZM238.6,210.8 250.1,214.0 250.2,213.4 239.3,207.7Z" fill="#dfd901"/>
<path d="M144.7,185.2 145.1,183.8 139.3,182.2 139.2,182.5ZM165.2,189.5 154.6,186.5 153.7,189.4 156.3,190.5 164.2,192.7ZM174.0,195.5 184.8,198.6 185.8,195.3 175.0,192.3ZM195.8,198.2 194.7,201.4 205.8,204.5 206.8,201.3ZM216.0,207.4 227.3,210.6 228.3,207.3 217.0,204.2ZM237.7,213.6 249.2,216.9 250.2,213.5 238.7,210.3Z" fill="#eae501"/>
<path d="M155.1,186.7 144.6,183.7 144.2,185.0 154.2,189.6ZM164.7,189.4 163.7,192.6 174.4,195.6 175.5,192.4ZM185.3,195.2 184.3,198.4 195.2,201.5 196.2,198.3ZM205.3,204.4 216.5,207.6 217.5,204.3 206.3,201.1ZM226.8,210.5 238.2,213.7 239.2,210.4 227.8,207.2Z" fill="#1be01b"/>
<path d="M161.2,86.8 163.7,95.8 167.7,109.8 167.9,109.8 167.7,78.4 158.6,76.4ZM178.4,111.2 178.1,138.4 181.8,146.6 188.2,159.0 188.9,159.1 189.2,148.0 189.8,125.9 190.5,83.5 178.5,80.8ZM211.6,142.9 213.8,88.8 201.6,86.0 200.4,128.3 199.6,151.0 199.1,161.9 210.5,164.8ZM223.7,122.0 222.4,145.9 221.0,167.6 232.6,170.7 235.0,137.0 237.7,94.1 225.2,91.3ZM247.1,127.7 245.3,151.7 243.4,173.5 255.3,176.6 258.5,142.8 262.2,99.6 249.4,96.7Z" fill="#040404"/>
<path d="M179.0,80.9 167.2,78.3 167.4,108.2 167.3,108.2 171.4,120.8 176.3,134.0 178.6,139.5 178.9,111.5ZM189.5,113.9 189.0,137.5 188.4,159.0 199.6,162.0 200.1,150.8 200.9,128.6 202.1,86.1 190.0,83.4ZM221.5,167.7 222.2,156.5 223.5,134.2 225.7,91.4 213.3,88.6 211.7,131.0 210.6,153.8 210.0,164.7ZM235.3,124.8 233.7,148.8 232.1,170.5 243.9,173.6 246.7,139.9 249.9,96.8 237.2,94.0Z" fill="#960606"/>
<path d="M63.6,193.6 L79.6,178.3 L83.0,174.8 L84.8,172.5 L85.9,170.3 L86.8,167.6 L87.4,164.2 L87.8,159.8 L87.9,154.4 L87.9,148.4 L87.6,140.2 L87.1,132.1 L86.5,121.8 L85.7,111.4 L84.8,99.8 L83.9,88.5 L82.9,76.7 L82.2,68.4 L81.4,59.3 M72.7,197.1 L89.1,181.1 L92.4,177.5 L94.2,175.2 L95.4,172.9 L96.2,170.3 L96.9,166.9 L97.3,162.4 L97.4,157.0 L97.4,151.0 L97.2,142.8 L96.8,134.7 L96.2,124.3 L95.6,113.9 L94.8,102.2 L94.0,90.9 L93.1,79.1 L92.5,70.8 L91.7,61.6 M81.8,200.8 L98.6,183.8 L102.0,180.2 L103.7,177.9 L104.9,175.6 L105.7,173.0 L106.4,169.5 L106.8,165.1 L107.0,159.6 L107.0,153.6 L106.9,145.4 L106.6,137.2 L106.1,126.8 L105.5,116.4 L104.9,104.7 L104.2,93.3 L103.4,81.5 L102.8,73.1 L102.2,64.0 M91.1,204.4 L108.3,186.6 L111.6,183.0 L113.3,180.6 L114.5,178.4 L115.3,175.7 L116.0,172.2 L116.5,167.8 L116.7,162.3 L116.8,156.2 L116.7,148.0 L116.5,139.8 L116.1,129.4 L115.6,118.9 L115.0,107.2 L114.4,95.8 L113.8,83.9 L113.3,75.5 L112.8,66.3 M100.6,208.1 L118.1,189.5 L121.3,185.8 L123.0,183.4 L124.2,181.1 L125.0,178.4 L125.7,175.0 L126.2,170.5 L126.5,165.0 L126.6,158.9 L126.6,150.6 L126.4,142.5 L126.2,132.0 L125.8,121.5 L125.3,109.8 L124.8,98.3 L124.3,86.4 L123.9,78.0 L123.5,68.7 M110.1,211.9 L128.0,192.3 L131.2,188.6 L132.9,186.2 L134.0,183.9 L134.9,181.2 L135.5,177.7 L136.0,173.2 L136.4,167.7 L136.5,161.6 L136.6,153.3 L136.5,145.1 L136.3,134.6 L136.1,124.1 L135.7,112.3 L135.4,100.8 L134.9,88.9 L134.6,80.4 L134.3,71.2 M119.8,215.7 L138.0,195.2 L141.1,191.5 L142.8,189.1 L143.9,186.7 L144.8,184.0 L145.5,180.5 L146.0,176.0 L146.4,170.5 L146.6,164.3 L146.7,156.0 L146.7,147.8 L146.6,137.3 L146.5,126.7 L146.3,114.9 L146.0,103.4 L145.7,91.4 L145.5,82.9 L145.2,73.6 M129.6,219.6 L148.1,198.2 L151.2,194.4 L152.8,191.9 L153.9,189.6 L154.8,186.8 L155.5,183.3 L156.1,178.8 L156.5,173.2 L156.7,167.1 L156.9,158.8 L157.0,150.5 L157.0,140.0 L157.0,129.4 L156.9,117.5 L156.7,105.9 L156.6,93.9 L156.4,85.4 L156.3,76.1 M139.6,223.6 L158.3,201.1 L161.3,197.3 L162.9,194.8 L164.0,192.4 L164.9,189.7 L165.6,186.2 L166.2,181.6 L166.7,176.0 L167.0,169.9 L167.3,161.5 L167.4,153.3 L167.6,142.7 L167.6,132.1 L167.6,120.2 L167.6,108.5 L167.6,96.5 L167.5,88.0 L167.5,78.6 M149.7,227.5 L168.7,204.1 L171.6,200.2 L173.2,197.7 L174.3,195.3 L175.1,192.6 L175.9,189.0 L176.5,184.4 L177.0,178.9 L177.4,172.7 L177.7,164.3 L178.0,156.0 L178.2,145.4 L178.4,134.8 L178.5,122.8 L178.6,111.2 L178.7,99.1 L178.8,90.5 L178.8,81.1 M160.0,231.6 L179.1,207.1 L182.0,203.2 L183.5,200.7 L184.6,198.3 L185.5,195.5 L186.2,191.9 L186.9,187.3 L187.4,181.8 L187.8,175.6 L188.3,167.1 L188.6,158.8 L189.0,148.2 L189.3,137.5 L189.5,125.5 L189.8,113.9 L190.0,101.7 L190.1,93.1 L190.2,83.7 M170.4,235.7 L189.7,210.2 L192.5,206.2 L194.0,203.7 L195.1,201.2 L195.9,198.5 L196.7,194.9 L197.4,190.3 L198.0,184.7 L198.4,178.4 L199.0,170.0 L199.4,161.7 L199.9,151.0 L200.3,140.3 L200.7,128.3 L201.0,116.6 L201.4,104.4 L201.6,95.8 L201.8,86.3 M180.9,239.8 L200.3,213.3 L203.1,209.3 L204.6,206.7 L205.6,204.2 L206.5,201.4 L207.3,197.8 L208.0,193.2 L208.6,187.6 L209.2,181.4 L209.8,172.9 L210.3,164.5 L210.9,153.8 L211.4,143.1 L211.9,131.1 L212.4,119.3 L212.9,107.1 L213.2,98.4 L213.6,89.0 M191.6,244.1 L211.1,216.4 L213.8,212.3 L215.2,209.7 L216.3,207.3 L217.2,204.5 L218.0,200.8 L218.7,196.2 L219.4,190.5 L220.0,184.3 L220.7,175.8 L221.3,167.4 L222.0,156.7 L222.6,145.9 L223.3,133.9 L223.9,122.1 L224.6,109.8 L225.0,101.1 L225.5,91.6 M202.5,248.4 L222.0,219.5 L224.6,215.4 L226.1,212.8 L227.1,210.3 L228.0,207.5 L228.8,203.9 L229.5,199.2 L230.3,193.5 L230.9,187.3 L231.7,178.8 L232.4,170.3 L233.2,159.6 L234.0,148.8 L234.8,136.7 L235.6,124.8 L236.4,112.6 L236.9,103.9 L237.5,94.3 M213.5,252.7 L233.0,222.7 L235.6,218.6 L237.0,215.9 L238.0,213.4 L238.9,210.6 L239.7,206.9 L240.5,202.2 L241.3,196.6 L242.0,190.3 L242.9,181.7 L243.7,173.3 L244.6,162.5 L245.5,151.7 L246.5,139.5 L247.4,127.7 L248.3,115.3 L248.9,106.6 L249.6,97.0 M224.7,257.1 L244.2,226.0 L246.7,221.8 L248.0,219.1 L249.0,216.6 L249.9,213.7 L250.7,210.0 L251.6,205.3 L252.4,199.6 L253.2,193.3 L254.2,184.8 L255.1,176.3 L256.1,165.5 L257.1,154.6 L258.2,142.4 L259.3,130.5 L260.4,118.2 L261.1,109.4 L262.0,99.8 M63.6,193.6 L224.7,257.1 M70.6,186.9 L230.0,248.6 M77.5,180.3 L235.1,240.4 M84.1,173.5 L99.7,179.6 L150.6,198.9 L240.1,232.4 M87.5,139.2 L88.4,140.4 L96.7,150.8 L104.8,159.0 L114.7,167.3 L126.5,175.2 L140.4,182.8 L156.4,190.3 L176.8,198.7 L206.2,210.2 L245.0,224.6 M159.0,76.7 L161.4,86.6 L163.9,95.6 L167.6,108.5 L171.8,121.2 L176.7,134.3 L181.9,146.4 L188.4,158.8 L194.8,168.9 L203.3,179.8 L211.8,188.5 L222.4,197.2 L235.4,205.7 L249.9,213.5" stroke="#151515" stroke-width="0.75" fill="none" stroke-linejoin="round"/>
<path d="M81.4,59.3 262.0,99.8 273.3,85.4 98.1,47.4Z" fill="#cdcdcd" stroke="#111" stroke-width="1.3" stroke-linejoin="round"/>
<polygon points="57.4,197.8 225.5,264.9 228.2,260.6 61.0,194.4" fill="#8a8a8a"/>
<polygon points="221.9,263.5 227.5,265.8 299.1,148.8 294.4,147.4" fill="#8a8a8a"/>
<path d="M57.4,197.8 L227.5,265.8 L299.1,148.8" stroke="#6e6e6e" stroke-width="1.4" fill="none" stroke-linejoin="round"/>
<path d="M61.4,196.5 L224.9,261.4 M226.2,261.1 L295.6,149.0" stroke="#f4f4f4" stroke-width="1.1" stroke-dasharray="1.6 1.6" fill="none"/>
<path d="M40.0,80.4 L57.4,197.8" stroke="#686868" stroke-width="2.6" fill="none"/>
<path d="M57.1,195.8 L61.0,192.2 M55.7,185.9 L58.4,183.3 M54.2,175.7 L57.0,173.1 M52.6,165.3 L55.5,162.7 M51.0,154.6 L55.1,151.1 M49.4,143.7 L52.4,141.2 M47.7,132.5 L50.7,130.1 M46.0,121.0 L49.1,118.6 M44.3,109.3 L48.7,106.0 M42.5,97.2 L45.7,94.9 M40.7,84.9 L43.9,82.6" stroke="#777" stroke-width="1.1" fill="none"/>
<text x="42" y="113.3" font-size="20.8" text-anchor="end">0.54</text>
<text x="50.1" y="156.7" font-size="20.8" text-anchor="end">0.52</text>
<text x="56" y="197.2" font-size="20.8" text-anchor="end">0.50</text>
<text x="48" y="219.5" font-size="20.8" text-anchor="middle">–<tspan dx="1.46">2</tspan></text>
<text x="84.7" y="235" font-size="20.8" text-anchor="middle">–<tspan dx="1.46">1</tspan></text>
<text x="131.1" y="250.3" font-size="20.8" text-anchor="middle">0</text>
<text x="171.1" y="266.9" font-size="20.8" text-anchor="middle">1</text>
<text x="215.7" y="284.7" font-size="20.8" text-anchor="middle">2</text>
<text x="115" y="275" font-size="28.5" text-anchor="middle">x</text>
<text x="242.7" y="275" font-size="20.8" text-anchor="middle">–<tspan dx="1.46">2</tspan></text>
<text x="261.6" y="242.1" font-size="20.8" text-anchor="middle">–<tspan dx="1.46">1</tspan></text>
<text x="275.1" y="212.8" font-size="20.8" text-anchor="middle">0</text>
<text x="289.1" y="187.1" font-size="20.8" text-anchor="middle">1</text>
<text x="305" y="163.9" font-size="20.8" text-anchor="middle">2</text>
<text x="286.1" y="223.8" font-size="31" text-anchor="middle">t</text>
<rect x="400.5" y="46.5" width="216.5" height="217.1" fill="#761c80"/>
<polygon points="399.5,172.99 618.0,152.31 618.0,183.81 399.5,204.49" fill="#fff"/>
<polygon points="400.5,172.9 617.0,152.4 617.0,151.5 400.5,172" fill="#8a3a1a"/>
<polygon points="400.5,204.4 617.0,183.9 617.0,184.8 400.5,205.3" fill="#8a3a1a"/>
<polygon points="400.5,172 617.0,151.5 617.0,150.7 400.5,171.2" fill="#e07a30"/>
<polygon points="400.5,205.3 617.0,184.8 617.0,185.6 400.5,206.1" fill="#e07a30"/>
<polygon points="400.5,171.2 617.0,150.7 617.0,149.8 400.5,170.3" fill="#cdb84a"/>
<polygon points="400.5,206.1 617.0,185.6 617.0,186.5 400.5,207" fill="#cdb84a"/>
<polygon points="400.5,170.3 617.0,149.8 617.0,148.5 400.5,169" fill="#78b46c"/>
<polygon points="400.5,207 617.0,186.5 617.0,187.8 400.5,208.3" fill="#78b46c"/>
<polygon points="400.5,169 617.0,148.5 617.0,146.5 400.5,167" fill="#4a8ccc"/>
<polygon points="400.5,208.3 617.0,187.8 617.0,189.8 400.5,210.3" fill="#4a8ccc"/>
<path d="M395.5,41.5 H621.5 M395.5,41.5 V268.2 H621.5" stroke="#a0a0a0" stroke-width="1.2" fill="none"/>
<path d="M400.5,268.2 v-3.2 M400.5,41.5 v3.2 M395.5,263.6 h3.2 M621.5,263.6 h-3.2 M411.32,268.2 v-2.0 M411.32,41.5 v2.0 M395.5,252.75 h2.0 M621.5,252.75 h-2.0 M422.15,268.2 v-2.0 M422.15,41.5 v2.0 M395.5,241.89 h2.0 M621.5,241.89 h-2.0 M432.98,268.2 v-2.0 M432.98,41.5 v2.0 M395.5,231.04 h2.0 M621.5,231.04 h-2.0 M443.8,268.2 v-2.0 M443.8,41.5 v2.0 M395.5,220.18 h2.0 M621.5,220.18 h-2.0 M454.62,268.2 v-3.2 M454.62,41.5 v3.2 M395.5,209.33 h3.2 M621.5,209.33 h-3.2 M465.45,268.2 v-2.0 M465.45,41.5 v2.0 M395.5,198.47 h2.0 M621.5,198.47 h-2.0 M476.27,268.2 v-2.0 M476.27,41.5 v2.0 M395.5,187.62 h2.0 M621.5,187.62 h-2.0 M487.1,268.2 v-2.0 M487.1,41.5 v2.0 M395.5,176.76 h2.0 M621.5,176.76 h-2.0 M497.93,268.2 v-2.0 M497.93,41.5 v2.0 M395.5,165.91 h2.0 M621.5,165.91 h-2.0 M508.75,268.2 v-3.2 M508.75,41.5 v3.2 M395.5,155.05 h3.2 M621.5,155.05 h-3.2 M519.58,268.2 v-2.0 M519.58,41.5 v2.0 M395.5,144.19 h2.0 M621.5,144.19 h-2.0 M530.4,268.2 v-2.0 M530.4,41.5 v2.0 M395.5,133.34 h2.0 M621.5,133.34 h-2.0 M541.23,268.2 v-2.0 M541.23,41.5 v2.0 M395.5,122.48 h2.0 M621.5,122.48 h-2.0 M552.05,268.2 v-2.0 M552.05,41.5 v2.0 M395.5,111.63 h2.0 M621.5,111.63 h-2.0 M562.88,268.2 v-3.2 M562.88,41.5 v3.2 M395.5,100.78 h3.2 M621.5,100.78 h-3.2 M573.7,268.2 v-2.0 M573.7,41.5 v2.0 M395.5,89.92 h2.0 M621.5,89.92 h-2.0 M584.52,268.2 v-2.0 M584.52,41.5 v2.0 M395.5,79.06 h2.0 M621.5,79.06 h-2.0 M595.35,268.2 v-2.0 M595.35,41.5 v2.0 M395.5,68.21 h2.0 M621.5,68.21 h-2.0 M606.17,268.2 v-2.0 M606.17,41.5 v2.0 M395.5,57.35 h2.0 M621.5,57.35 h-2.0 M617,268.2 v-3.2 M617,41.5 v3.2 M395.5,46.5 h3.2 M621.5,46.5 h-3.2" stroke="#555" stroke-width="0.9" fill="none"/>
<text x="393.5" y="269.6" font-size="16.7" text-anchor="end">–<tspan dx="1.17">2</tspan></text>
<text x="400.5" y="286.5" font-size="16.7" text-anchor="middle">–<tspan dx="1.17">2</tspan></text>
<text x="393.5" y="215.33" font-size="16.7" text-anchor="end">–<tspan dx="1.17">1</tspan></text>
<text x="454.62" y="286.5" font-size="16.7" text-anchor="middle">–<tspan dx="1.17">1</tspan></text>
<text x="393.5" y="161.05" font-size="16.7" text-anchor="end">0</text>
<text x="508.75" y="286.5" font-size="16.7" text-anchor="middle">0</text>
<text x="393.5" y="106.78" font-size="16.7" text-anchor="end">1</text>
<text x="562.88" y="286.5" font-size="16.7" text-anchor="middle">1</text>
<text x="393.5" y="52.5" font-size="16.7" text-anchor="end">2</text>
<text x="617" y="286.5" font-size="16.7" text-anchor="middle">2</text>
<rect x="632" y="88" width="10.3" height="23.63" fill="#d8262a"/>
<rect x="632" y="111.33" width="10.3" height="23.63" fill="#e8793a"/>
<rect x="632" y="134.67" width="10.3" height="23.63" fill="#d2bf4a"/>
<rect x="632" y="158" width="10.3" height="23.63" fill="#7ab870"/>
<rect x="632" y="181.33" width="10.3" height="23.63" fill="#4a8ccc"/>
<rect x="632" y="204.67" width="10.3" height="23.63" fill="#74207e"/>
<path d="M642.3,111.33 h3" stroke="#999" stroke-width="0.8"/>
<text x="647" y="117.33" font-size="16.7" text-anchor="start">0.55</text>
<path d="M642.3,134.67 h3" stroke="#999" stroke-width="0.8"/>
<text x="647" y="140.67" font-size="16.7" text-anchor="start">0.54</text>
<path d="M642.3,158 h3" stroke="#999" stroke-width="0.8"/>
<text x="647" y="164" font-size="16.7" text-anchor="start">0.53</text>
<path d="M642.3,181.33 h3" stroke="#999" stroke-width="0.8"/>
<text x="647" y="187.33" font-size="16.7" text-anchor="start">0.52</text>
<path d="M642.3,204.67 h3" stroke="#999" stroke-width="0.8"/>
<text x="647" y="210.67" font-size="16.7" text-anchor="start">0.51</text>
<rect x="27.8" y="347.0" width="217.9" height="217.2" fill="#761c80"/>
<defs><linearGradient id="gu" x1="0" y1="1" x2="0" y2="0"><stop offset="0" stop-color="#e07030"/><stop offset="0.05" stop-color="#c8b040"/><stop offset="0.1" stop-color="#60c090"/><stop offset="0.17" stop-color="#40a8d0"/><stop offset="0.3" stop-color="#3a58d0"/><stop offset="0.48" stop-color="#4a30bc"/><stop offset="0.72" stop-color="#6420a0"/><stop offset="1" stop-color="#761c80"/></linearGradient><linearGradient id="gl" x1="0" y1="0" x2="0" y2="1"><stop offset="0" stop-color="#e07030"/><stop offset="0.05" stop-color="#c8b040"/><stop offset="0.1" stop-color="#60c090"/><stop offset="0.17" stop-color="#40a8d0"/><stop offset="0.3" stop-color="#3a58d0"/><stop offset="0.48" stop-color="#4a30bc"/><stop offset="0.7" stop-color="#6420a0"/><stop offset="1" stop-color="#761c80"/></linearGradient><linearGradient id="gleg" x1="0" y1="0" x2="0" y2="1"><stop offset="0" stop-color="#d8302c"/><stop offset="0.15" stop-color="#e4822e"/><stop offset="0.32" stop-color="#c6bc3c"/><stop offset="0.5" stop-color="#6cb46a"/><stop offset="0.66" stop-color="#3c96be"/><stop offset="0.82" stop-color="#3c5ac8"/><stop offset="0.93" stop-color="#4a2aa8"/><stop offset="1" stop-color="#6a1a86"/></linearGradient></defs>
<g transform="matrix(1 -0.09362 0 1 0 2.603)">
<rect x="27.8" y="451.2" width="217.9" height="21.0" fill="url(#gu)"/>
<rect x="27.8" y="505" width="217.9" height="14.0" fill="url(#gl)"/>
<rect x="26.8" y="472.2" width="219.9" height="32.8" fill="#fff"/>
<path d="M28.96,472.2 L31.65,469.78 L34.34,472.2ZM36.62,472.2 L39.35,469.73 L42.08,472.2ZM44.28,472.2 L47.05,469.68 L49.82,472.2ZM51.94,472.2 L54.75,469.63 L57.56,472.2ZM59.6,472.2 L62.45,469.58 L65.3,472.2ZM67.26,472.2 L70.15,469.53 L73.04,472.2ZM74.96,472.2 L77.85,469.48 L80.74,472.2ZM82.66,472.2 L85.55,469.43 L88.44,472.2ZM90.36,472.2 L93.25,469.38 L96.14,472.2ZM98.06,472.2 L100.95,469.33 L103.84,472.2ZM105.76,472.2 L108.65,469.28 L111.54,472.2ZM113.46,472.2 L116.35,469.23 L119.24,472.2ZM121.16,472.2 L124.05,469.18 L126.94,472.2ZM128.86,472.2 L131.75,469.13 L134.64,472.2ZM136.56,472.2 L139.45,469.08 L142.34,472.2ZM144.26,472.2 L147.15,469.03 L150.04,472.2ZM151.96,472.2 L154.85,468.98 L157.74,472.2ZM159.66,472.2 L162.55,468.93 L165.44,472.2ZM167.36,472.2 L170.25,468.88 L173.14,472.2ZM175.06,472.2 L177.95,468.84 L180.84,472.2ZM182.76,472.2 L185.65,468.79 L188.54,472.2ZM190.46,472.2 L193.35,468.74 L196.24,472.2ZM198.16,472.2 L201.05,468.69 L203.94,472.2ZM205.86,472.2 L208.75,468.64 L211.64,472.2ZM213.56,472.2 L216.45,468.59 L219.34,472.2ZM221.26,472.2 L224.15,468.54 L227.04,472.2ZM228.96,472.2 L231.85,468.49 L234.74,472.2ZM236.66,472.2 L239.55,468.44 L242.44,472.2Z" fill="#d82c2c"/>
<path d="M27.8,471.65 H245.7" stroke="#d83a2c" stroke-width="1.2"/>
<path d="M28.76,505 L31.65,508.58 L34.54,505ZM36.46,505 L39.35,508.54 L42.24,505ZM44.16,505 L47.05,508.49 L49.94,505ZM51.86,505 L54.75,508.45 L57.64,505ZM59.56,505 L62.45,508.41 L65.34,505ZM67.26,505 L70.15,508.37 L73.04,505ZM74.96,505 L77.85,508.32 L80.74,505ZM82.66,505 L85.55,508.28 L88.44,505ZM90.36,505 L93.25,508.24 L96.14,505ZM98.06,505 L100.95,508.2 L103.84,505ZM105.76,505 L108.65,508.15 L111.54,505ZM113.46,505 L116.35,508.11 L119.24,505ZM121.16,505 L124.05,508.07 L126.94,505ZM128.86,505 L131.75,508.03 L134.64,505ZM136.56,505 L139.45,507.99 L142.34,505ZM144.26,505 L147.15,507.94 L150.04,505ZM151.96,505 L154.85,507.9 L157.74,505ZM159.66,505 L162.55,507.86 L165.44,505ZM167.36,505 L170.25,507.82 L173.14,505ZM175.06,505 L177.95,507.77 L180.84,505ZM182.76,505 L185.65,507.73 L188.54,505ZM190.46,505 L193.35,507.69 L196.24,505ZM198.18,505 L201.05,507.65 L203.92,505ZM205.92,505 L208.75,507.6 L211.58,505ZM213.65,505 L216.45,507.56 L219.25,505ZM221.39,505 L224.15,507.52 L226.91,505ZM229.12,505 L231.85,507.48 L234.58,505ZM236.85,505 L239.55,507.43 L242.25,505Z" fill="#d82c2c"/>
<path d="M27.8,505.55 H245.7" stroke="#d83a2c" stroke-width="1.2"/>
</g>
<path d="M23.5,342.1 H250.4 V568.8 H23.5 Z" stroke="#a0a0a0" stroke-width="1.1" fill="none"/>
<path d="M27.8,568.8 v-3.2 M27.8,342.1 v3.2 M23.5,564.2 h3.2 M250.4,564.2 h-3.2 M38.69,568.8 v-2.0 M38.69,342.1 v2.0 M23.5,553.34 h2.0 M250.4,553.34 h-2.0 M49.59,568.8 v-2.0 M49.59,342.1 v2.0 M23.5,542.48 h2.0 M250.4,542.48 h-2.0 M60.48,568.8 v-2.0 M60.48,342.1 v2.0 M23.5,531.62 h2.0 M250.4,531.62 h-2.0 M71.38,568.8 v-2.0 M71.38,342.1 v2.0 M23.5,520.76 h2.0 M250.4,520.76 h-2.0 M82.27,568.8 v-3.2 M82.27,342.1 v3.2 M23.5,509.9 h3.2 M250.4,509.9 h-3.2 M93.17,568.8 v-2.0 M93.17,342.1 v2.0 M23.5,499.04 h2.0 M250.4,499.04 h-2.0 M104.06,568.8 v-2.0 M104.06,342.1 v2.0 M23.5,488.18 h2.0 M250.4,488.18 h-2.0 M114.96,568.8 v-2.0 M114.96,342.1 v2.0 M23.5,477.32 h2.0 M250.4,477.32 h-2.0 M125.85,568.8 v-2.0 M125.85,342.1 v2.0 M23.5,466.46 h2.0 M250.4,466.46 h-2.0 M136.75,568.8 v-3.2 M136.75,342.1 v3.2 M23.5,455.6 h3.2 M250.4,455.6 h-3.2 M147.65,568.8 v-2.0 M147.65,342.1 v2.0 M23.5,444.74 h2.0 M250.4,444.74 h-2.0 M158.54,568.8 v-2.0 M158.54,342.1 v2.0 M23.5,433.88 h2.0 M250.4,433.88 h-2.0 M169.44,568.8 v-2.0 M169.44,342.1 v2.0 M23.5,423.02 h2.0 M250.4,423.02 h-2.0 M180.33,568.8 v-2.0 M180.33,342.1 v2.0 M23.5,412.16 h2.0 M250.4,412.16 h-2.0 M191.22,568.8 v-3.2 M191.22,342.1 v3.2 M23.5,401.3 h3.2 M250.4,401.3 h-3.2 M202.12,568.8 v-2.0 M202.12,342.1 v2.0 M23.5,390.44 h2.0 M250.4,390.44 h-2.0 M213.02,568.8 v-2.0 M213.02,342.1 v2.0 M23.5,379.58 h2.0 M250.4,379.58 h-2.0 M223.91,568.8 v-2.0 M223.91,342.1 v2.0 M23.5,368.72 h2.0 M250.4,368.72 h-2.0 M234.81,568.8 v-2.0 M234.81,342.1 v2.0 M23.5,357.86 h2.0 M250.4,357.86 h-2.0 M245.7,568.8 v-3.2 M245.7,342.1 v3.2 M23.5,347 h3.2 M250.4,347 h-3.2" stroke="#555" stroke-width="0.9" fill="none"/>
<text x="21" y="569.7" font-size="16.2" text-anchor="end">–<tspan dx="1.13">2</tspan></text>
<text x="27.8" y="587" font-size="16.2" text-anchor="middle">–<tspan dx="1.13">2</tspan></text>
<text x="21" y="515.4" font-size="16.2" text-anchor="end">–<tspan dx="1.13">1</tspan></text>
<text x="82.27" y="587" font-size="16.2" text-anchor="middle">–<tspan dx="1.13">1</tspan></text>
<text x="21" y="461.1" font-size="16.2" text-anchor="end">0</text>
<text x="136.75" y="587" font-size="16.2" text-anchor="middle">0</text>
<text x="21" y="406.8" font-size="16.2" text-anchor="end">1</text>
<text x="191.22" y="587" font-size="16.2" text-anchor="middle">1</text>
<text x="21" y="352.5" font-size="16.2" text-anchor="end">2</text>
<text x="245.7" y="587" font-size="16.2" text-anchor="middle">2</text>
<rect x="261" y="395.1" width="9" height="134.2" fill="url(#gleg)"/>
<text x="275" y="402" font-size="17.3" text-anchor="start">0.55</text>
<text x="275" y="428.84" font-size="17.3" text-anchor="start">0.54</text>
<text x="275" y="455.68" font-size="17.3" text-anchor="start">0.53</text>
<text x="275" y="482.52" font-size="17.3" text-anchor="start">0.52</text>
<text x="275" y="509.36" font-size="17.3" text-anchor="start">0.51</text>
<text x="275" y="536.2" font-size="17.3" text-anchor="start">0.50</text>
<defs><linearGradient id="gc" gradientUnits="userSpaceOnUse" x1="0" y1="564" x2="0" y2="408"><stop offset="0" stop-color="#6a2090"/><stop offset="0.12" stop-color="#3c3cc0"/><stop offset="0.32" stop-color="#3c8ccc"/><stop offset="0.5" stop-color="#5cb48c"/><stop offset="0.68" stop-color="#b8c040"/><stop offset="0.84" stop-color="#e48a30"/><stop offset="1" stop-color="#d8263a"/></linearGradient></defs>
<path d="M380,564.5 H659.8" stroke="#6a6a6a" stroke-width="2.4" fill="none"/>
<path d="M520.3,400.5 V573" stroke="#6a6a6a" stroke-width="2.4" fill="none"/>
<path d="M386.5,564.5 v-3 M399.88,564.5 v-1.8 M413.26,564.5 v-1.8 M426.64,564.5 v-1.8 M440.02,564.5 v-1.8 M453.4,564.5 v-3 M466.78,564.5 v-1.8 M480.16,564.5 v-1.8 M493.54,564.5 v-1.8 M506.92,564.5 v-1.8 M520.3,564.5 v-3 M533.68,564.5 v-1.8 M547.06,564.5 v-1.8 M560.44,564.5 v-1.8 M573.82,564.5 v-1.8 M587.2,564.5 v-3 M600.58,564.5 v-1.8 M613.96,564.5 v-1.8 M627.34,564.5 v-1.8 M640.72,564.5 v-1.8 M654.1,564.5 v-3 M520.3,551.08 h1.8 M520.3,537.66 h3 M520.3,524.24 h1.8 M520.3,510.82 h3 M520.3,497.4 h1.8 M520.3,483.98 h3 M520.3,470.56 h1.8 M520.3,457.14 h3 M520.3,443.72 h1.8 M520.3,430.3 h3 M520.3,416.88 h1.8 M520.3,403.46 h3" stroke="#777" stroke-width="1" fill="none"/>
<polyline points="386.5,564.14 388.73,564.12 390.96,564.1 393.19,564.08 395.42,564.06 397.65,564.04 399.88,564.01 402.11,563.99 404.34,563.96 406.57,563.93 408.8,563.9 411.03,563.87 413.26,563.84 415.49,563.8 417.72,563.77 419.95,563.73 422.18,563.69 424.41,563.65 426.64,563.6 428.87,563.56 431.1,563.51 433.33,563.46 435.56,563.4 437.79,563.35 440.02,563.29 442.25,563.22 444.48,563.16 446.71,563.09 448.94,563.01 451.17,562.94 453.4,562.86 455.63,562.77 457.86,562.68 460.09,562.59 462.32,562.49 464.55,562.38 466.78,562.27 469.01,562.16 471.24,562.04 473.47,561.91 475.7,561.77 477.93,561.63 480.16,561.48 482.39,561.33 484.62,561.16 486.85,560.99 489.08,560.81 491.31,560.62 493.54,560.41 495.77,560.2 498,559.98 500.23,559.74 502.46,559.5 504.69,559.24 506.92,558.96 509.15,558.68 511.38,558.37 513.61,558.06 515.84,557.72 518.07,557.37 520.3,557 522.53,556.61 524.76,556.2 526.99,555.77 529.22,555.32 531.45,554.84 533.68,554.34 535.91,553.81 538.14,553.26 540.37,552.67 542.6,552.06 544.83,551.41 547.06,550.74 549.29,550.02 551.52,549.27 553.75,548.48 555.98,547.65 558.21,546.77 560.44,545.85 562.67,544.88 564.9,543.87 567.13,542.8 569.36,541.67 571.59,540.48 573.82,539.24 576.05,537.93 578.28,536.55 580.51,535.1 582.74,533.57 584.97,531.97 587.2,530.28 589.43,528.5 591.66,526.63 593.89,524.67 596.12,522.6 598.35,520.42 600.58,518.14 602.81,515.73 605.04,513.2 607.27,510.54 609.5,507.74 611.73,504.79 613.96,501.69 616.19,498.43 618.42,495 620.65,491.39 622.88,487.6 625.11,483.61 627.34,479.41 629.57,474.99 631.8,470.35 634.03,465.46 636.26,460.32 638.49,454.91 640.72,449.23 642.95,443.24 645.18,436.95 647.41,430.33 649.64,423.37 651.87,416.04 654.1,408.34" stroke="url(#gc)" stroke-width="1.3" fill="none"/>
<text x="516.8" y="545.26" font-size="20.8" text-anchor="end">0.52</text>
<text x="516.8" y="518.42" font-size="20.8" text-anchor="end">0.54</text>
<text x="516.8" y="491.58" font-size="20.8" text-anchor="end">0.56</text>
<text x="516.8" y="464.74" font-size="20.8" text-anchor="end">0.58</text>
<text x="516.8" y="437.9" font-size="20.8" text-anchor="end">0.60</text>
<text x="516.8" y="411.06" font-size="20.8" text-anchor="end">0.62</text>
<text x="385.1" y="586.2" font-size="20.8" text-anchor="middle">–<tspan dx="1.46">2</tspan></text>
<text x="451.5" y="586.2" font-size="20.8" text-anchor="middle">–<tspan dx="1.46">1</tspan></text>
<text x="587" y="586.2" font-size="20.8" text-anchor="middle">1</text>
<text x="654.5" y="586.2" font-size="20.8" text-anchor="middle">2</text>
<text x="520" y="388.2" font-size="31" text-anchor="middle">t</text>
<text x="675.6" y="574.8" font-size="28.5" text-anchor="middle">x</text>
</svg>
</body></html>
